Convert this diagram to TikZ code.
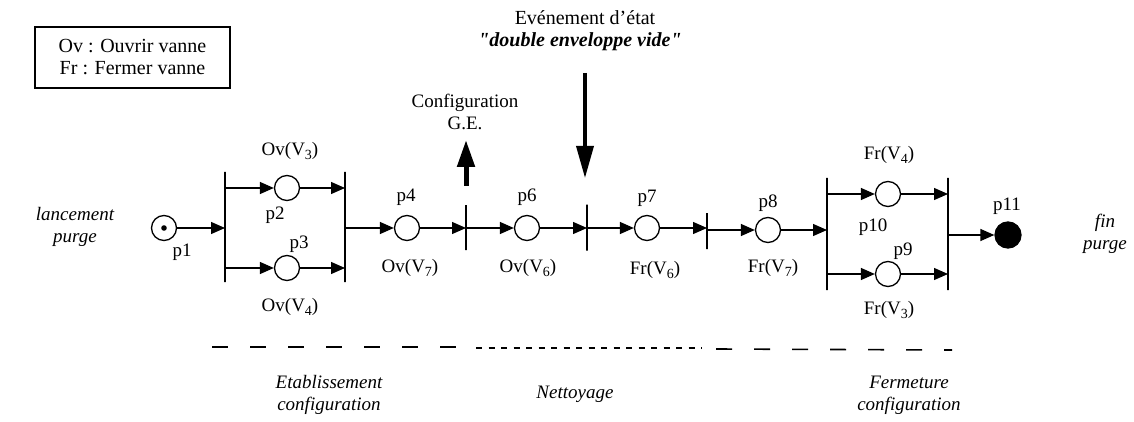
\documentclass[tikz,border=0pt]{standalone}
\usepackage{fontspec}
\setmainfont{Liberation Serif}
\usetikzlibrary{arrows.meta}
\newcommand\vs[1]{\raisebox{-0.5ex}{\fontsize{14}{14}\selectfont #1}}
\tikzset{
  every node/.style={font=\fontsize{19}{22}\selectfont, inner sep=0pt},
  place/.style={circle, draw, line width=1.3pt, minimum size=25pt, inner sep=0pt},
  endplace/.style={circle, draw, fill=black, line width=1.3pt, minimum size=26pt, inner sep=0pt},
  bar/.style={draw, line width=1.4pt, minimum width=0pt, inner sep=0pt, rectangle},
  arc/.style={line width=1.3pt, -{Triangle[length=14pt,width=12pt]}},
  lbl/.style={font=\fontsize{19}{22}\selectfont},
  ital/.style={font=\fontsize{19}{22}\selectfont\itshape},
  bigup/.style={line width=5pt, -{Triangle[length=27pt,width=17pt]}},
  bigdown/.style={line width=3.5pt, -{Triangle[length=32pt,width=17pt]}},
  longdash/.style={line width=1.6pt, dash pattern=on 16pt off 22pt},
  shortdash/.style={line width=1.6pt, dash pattern=on 6pt off 6.5pt}
}
\begin{document}
\begin{tikzpicture}[x=1pt,y=-1pt]
\useasboundingbox (0,0) rectangle (1134,422);
% legend
\node[draw, line width=1.2pt, minimum width=195pt, minimum height=61pt, align=center,
      font=\fontsize{20}{22}\selectfont] (legend) at (132.5,57.5)
      {Ov : Ouvrir vanne\\Fr : Fermer vanne};
% places
\node[place] (p1) at (164,228) {};
\fill (p1.center) circle (2.8pt);
\node[place] (p2) at (287,188) {};
\node[place] (p3) at (287,268) {};
\node[place] (p4) at (407,228) {};
\node[place] (p6) at (527,228) {};
\node[place] (p7) at (647,228) {};
\node[place] (p8) at (768,230) {};
\node[place] (p10) at (888,194) {};
\node[place] (p9) at (888,274) {};
\node[endplace] (p11) at (1008,235) {};
% transitions
\node[bar, minimum height=110pt] (t1) at (225,227) {};
\node[bar, minimum height=110pt] (t2) at (345,227) {};
\node[bar, minimum height=45pt] (t3) at (466,227.5) {};
\node[bar, minimum height=46pt] (t4) at (587,227.5) {};
\node[bar, minimum height=36pt] (t5) at (707,231) {};
\node[bar, minimum height=112pt] (t6) at (827,234) {};
\node[bar, minimum height=112pt] (t7) at (948,234) {};
% arcs
\draw[arc] (p1) -- (p1 -| t1);
\draw[arc] (t1 |- p2) -- (p2);
\draw[arc] (t1 |- p3) -- (p3);
\draw[arc] (p2) -- (p2 -| t2);
\draw[arc] (p3) -- (p3 -| t2);
\draw[arc] (t2 |- p4) -- (p4);
\draw[arc] (p4) -- (p4 -| t3);
\draw[arc] (t3 |- p6) -- (p6);
\draw[arc] (p6) -- (p6 -| t4);
\draw[arc] (t4 |- p7) -- (p7);
\draw[arc] (p7) -- (p7 -| t5);
\draw[arc] (t5 |- p8) -- (p8);
\draw[arc] (p8) -- (p8 -| t6);
\draw[arc] (t6 |- p10) -- (p10);
\draw[arc] (t6 |- p9) -- (p9);
\draw[arc] (p10) -- (p10 -| t7);
\draw[arc] (p9) -- (p9 -| t7);
\draw[arc] (t7 |- p11) -- (p11);
% place and transition labels
\node[lbl] (l1) at (182,252) {p1};
\node[lbl] (l2) at (275,215) {p2};
\node[lbl] (l3) at (299,244) {p3};
\node[lbl] (a2) at (290,151) {Ov(V\vs{3})};
\node[lbl] (a3) at (290,307) {Ov(V\vs{4})};
\node[lbl] (l4) at (406,197) {p4};
\node[lbl] (a4) at (410,268) {Ov(V\vs{7})};
\node[lbl] (l6) at (527,197) {p6};
\node[lbl] (a6) at (528,268) {Ov(V\vs{6})};
\node[lbl] (l7) at (647,198) {p7};
\node[lbl] (a7) at (655,270) {Fr(V\vs{6})};
\node[lbl] (l8) at (768,203) {p8};
\node[lbl] (a8) at (773,268) {Fr(V\vs{7})};
\node[lbl] (a10) at (889,155) {Fr(V\vs{4})};
\node[lbl] (l10) at (873,227) {p10};
\node[lbl] (l9) at (903,251) {p9};
\node[lbl] (a9) at (889,310) {Fr(V\vs{3})};
\node[lbl] (l11) at (1007,206) {p11};
% side labels
\node[ital, align=center] (start) at (75,227) {lancement\\purge};
\node[ital, align=center] (finish) at (1105,234) {fin\\purge};
% configuration G.E.
\node[lbl, align=center] (ge) at (465,112) {Configuration\\G.E.};
\coordinate (geA) at (466,186);
\coordinate (geB) at (466,140);
\draw[bigup] (geA) -- (geB);
% event
\node[lbl, font=\fontsize{20}{22}\selectfont] (ev1) at (585,18) {Evénement d'état};
\node[font=\fontsize{20}{22}\selectfont\bfseries\itshape] (ev2) at (580,42) {\textquotedbl double enveloppe vide\textquotedbl};
\coordinate (evA) at (585,73);
\coordinate (evB) at (585,178);
\draw[bigdown] (evA) -- (evB);
% phases
\draw[longdash] (212,347) -- (470,347);
\draw[shortdash] (476,348) -- (702,348);
\draw[longdash] (716,349) -- (952,350);
\node[ital, align=center] (ph1) at (329,395) {Etablissement\\configuration};
\node[ital] (ph2) at (575,394) {Nettoyage};
\node[ital, align=center] (ph3) at (909,395) {Fermeture\\configuration};
\end{tikzpicture}
\end{document}
